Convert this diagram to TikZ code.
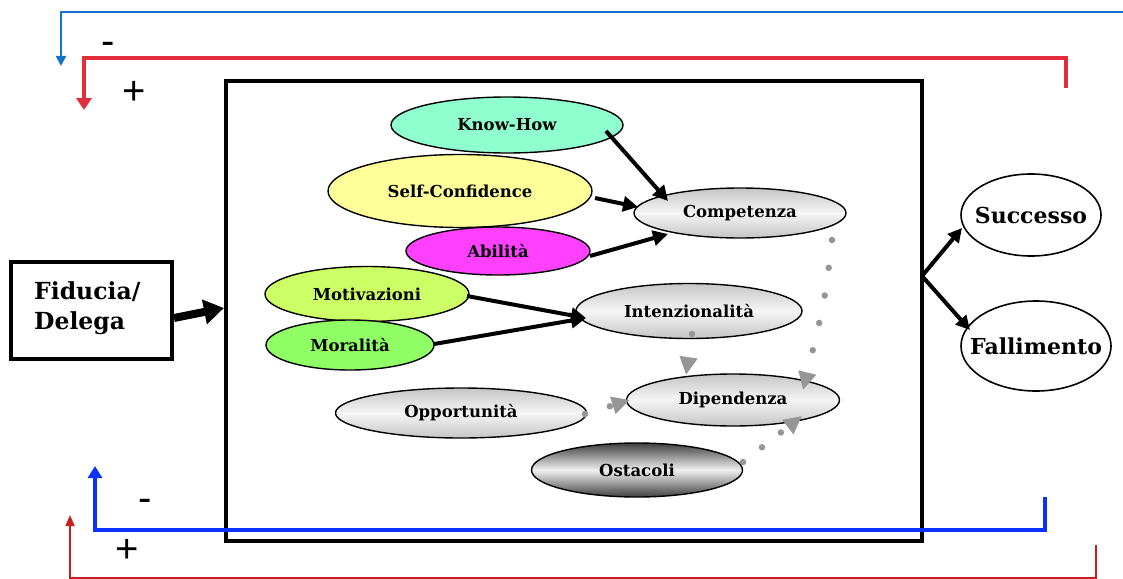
\documentclass[tikz,border=0pt]{standalone}
\usepackage{fontspec}
\setmainfont{DejaVu Serif}
\newfontfamily\lblfont{DejaVu Serif}
\newfontfamily\pmfont{Liberation Sans}
\usetikzlibrary{arrows.meta,shapes.geometric,calc}
\definecolor{knowc}{RGB}{144,255,208}
\definecolor{selfc}{RGB}{255,255,153}
\definecolor{abilc}{RGB}{255,64,255}
\definecolor{motic}{RGB}{204,255,102}
\definecolor{moralc}{RGB}{144,255,102}
\definecolor{topblue}{RGB}{20,115,205}
\definecolor{topred}{RGB}{225,45,60}
\definecolor{botblue}{RGB}{10,50,255}
\definecolor{botred}{RGB}{200,30,30}
\definecolor{dotgray}{RGB}{150,150,150}
\tikzset{
  ell/.style={ellipse,draw=black,line width=1.4pt,inner sep=0pt,
     font=\lblfont\bfseries\fontsize{16.5}{18}\selectfont},
  grayell/.style={ell,top color=gray!45,bottom color=gray!45,middle color=gray!8},
  darkell/.style={ell,top color=black!75,bottom color=black!75,middle color=gray!12},
  outell/.style={ellipse,draw=black,line width=1.6pt,inner xsep=-16pt,inner ysep=0pt,
     font=\bfseries\fontsize{22}{24}\selectfont},
  blkarrow/.style={line width=4pt,-{Triangle[length=15pt,width=15pt]}},
  dotarrow/.style={dotgray,line width=6.5pt,line cap=round,dash pattern=on 0pt off 28pt,
     -{Triangle[length=18pt,width=17pt]}},
  pm/.style={font=\pmfont\fontsize{40}{40}\selectfont,inner sep=0pt}
}
\begin{document}
\begin{tikzpicture}[x=1pt,y=-1pt]
\useasboundingbox (0,0) rectangle (1123,578);
% feedback lines top
\coordinate (tbS) at (1123,12);
\coordinate (tbC) at (61,12);
\coordinate (tbE) at (61,66);
\draw[topblue,line width=2pt,-{Triangle[length=10pt,width=10pt]}] (tbS) -- (tbC) -- (tbE);
\coordinate (trS) at (1066,88);
\coordinate (trC1) at (1066,58);
\coordinate (trC2) at (84,58);
\coordinate (trE) at (84,110);
\draw[topred,line width=4pt,-{Triangle[length=12pt,width=15pt]}] (trS) -- (trC1) -- (trC2) -- (trE);
\node[pm] (m1) at (108,48) {-};
\node[pm] (p1) at (134,93) {+};
% main box
\node[draw,line width=4pt,minimum width=696pt,minimum height=460pt,inner sep=0pt] (main) at (574,311) {};
% Fiducia box
\node[draw,line width=4pt,minimum width=161pt,minimum height=97pt,inner sep=0pt] (fid) at (91.5,310.5) {};
\node[anchor=west,align=left,font=\bfseries\fontsize{23.5}{30}\selectfont,inner sep=0pt] (fidt) at (34,308) {Fiducia/\\Delega};
\coordinate (fidA) at (fid.east |- 0,318);
\coordinate (mainA) at (224,308);
\draw[line width=8pt,-{Triangle[length=20pt,width=24pt]}] (fidA) -- (mainA);
% ellipses
\node[ell,fill=knowc,minimum width=232pt,minimum height=56pt] (know) at (507,125) {Know-How};
\node[ell,fill=selfc,minimum width=264pt,minimum height=73pt] (self) at (460,191) {Self-Confidence};
\node[ell,fill=abilc,minimum width=184pt,minimum height=48pt] (abil) at (498,251) {Abilità};
\node[grayell,minimum width=212pt,minimum height=50pt] (comp) at (740,213) {Competenza};
\node[ell,fill=motic,minimum width=204pt,minimum height=55pt] (moti) at (367,294) {Motivazioni};
\node[ell,fill=moralc,minimum width=168pt,minimum height=50pt] (mora) at (350,345) {Moralità};
\node[grayell,minimum width=226pt,minimum height=55pt] (inte) at (689,311) {Intenzionalità};
\node[grayell,minimum width=251pt,minimum height=50pt] (oppo) at (461,413) {Opportunità};
\node[grayell,minimum width=213pt,minimum height=52pt] (dipe) at (733,400) {Dipendenza};
\node[darkell,minimum width=211pt,minimum height=54pt] (osta) at (637,470) {Ostacoli};
% outcome ellipses
\node[outell,minimum width=140pt,minimum height=82pt] (succ) at (1031,215) {Successo};
\node[outell,minimum width=150pt,minimum height=90pt] (fall) at (1036,346) {Fallimento};
% arrows inside
\draw[blkarrow] ($(know.center)+(99,6)$) -- ($(comp.center)+(-72,-12)$);
\draw[blkarrow] ($(self.center)+(135,7)$) -- ($(comp.center)+(-102,-6)$);
\draw[blkarrow] ($(abil.center)+(92,5)$) -- ($(comp.center)+(-72,21)$);
\draw[blkarrow] ($(moti.center)+(100,2)$) -- ($(inte.center)+(-103,7)$);
\draw[blkarrow] ($(mora.center)+(84,-1)$) -- ($(inte.center)+(-103,7)$);
% arrows to outcomes
\coordinate (outS) at (922,276);
\draw[line width=4pt,-{Triangle[length=14pt,width=14pt]}] (outS) -- ($(succ.center)+(-69,13)$);
\draw[line width=4pt,-{Triangle[length=14pt,width=14pt]}] (outS) -- ($(fall.center)+(-66,-16)$);
% dotted gray arrows
\coordinate (d1s) at (832,240);
\coordinate (d1e) at (803,390);
\draw[dotarrow] (d1s) .. controls (825,300) .. (d1e);
\coordinate (d2s) at (692,334);
\coordinate (d2e) at (686,375);
\draw[dotarrow] (d2s) -- (d2e);
\coordinate (d3s) at (585,414);
\coordinate (d3e) at (630,400);
\draw[dotarrow,dash pattern=on 0pt off 26pt] (d3s) -- (d3e);
\coordinate (d4s) at (743,462);
\coordinate (d4e) at (802,416);
\draw[dotarrow,dash pattern=on 0pt off 24pt] (d4s) -- (d4e);
% feedback lines bottom
\coordinate (bbS) at (1045,497);
\coordinate (bbC1) at (1045,530);
\coordinate (bbC2) at (95,530);
\coordinate (bbE) at (95,466);
\draw[botblue,line width=4pt,-{Triangle[length=12pt,width=14pt]}] (bbS) -- (bbC1) -- (bbC2) -- (bbE);
\node[pm] (m2) at (145,505) {-};
\node[pm] (p2) at (127,551) {+};
\coordinate (brS) at (1096,545);
\coordinate (brC1) at (1096,578);
\coordinate (brC2) at (70,578);
\coordinate (brE) at (70,515);
\draw[botred,line width=1.6pt,-{Triangle[length=11pt,width=9pt]}] (brS) -- (brC1) -- (brC2) -- (brE);
\end{tikzpicture}
\end{document}
